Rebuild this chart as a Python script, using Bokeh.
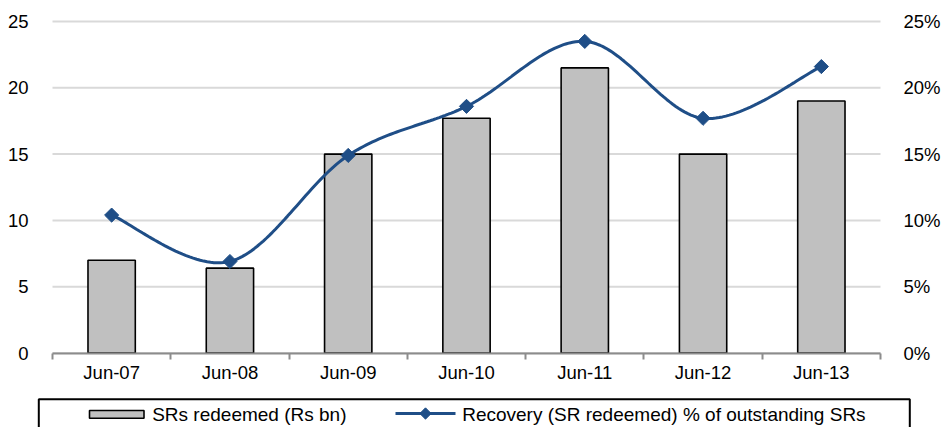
import numpy as np
from bokeh.plotting import figure
from bokeh.models import Range1d, LinearAxis, FixedTicker, NumeralTickFormatter
from bokeh.embed import file_html
from bokeh.resources import INLINE
from bokeh.core.properties import value

# ---- data ----
categories = ["Jun-07", "Jun-08", "Jun-09", "Jun-10", "Jun-11", "Jun-12", "Jun-13"]
srs_redeemed = [7.0, 6.4, 15.0, 17.7, 21.5, 15.0, 19.0]           # Rs bn
recovery_pct = [0.104, 0.069, 0.149, 0.186, 0.235, 0.177, 0.216]   # fraction
left_ticks = [0, 5, 10, 15, 20, 25]
right_ticks = [0.0, 0.05, 0.10, 0.15, 0.20, 0.25]
legend_labels = ["SRs redeemed (Rs bn)", "Recovery (SR redeemed) % of outstanding SRs"]

FONT = "Liberation Sans"
FS = "18.5px"
LEG_FS = "19px"
BAR_FILL = "#C0C0C0"
LINE_COL = "#1F4E87"
AXIS_COL = "#8C8C8C"
GRID_COL = "#D9D9D9"

# ---- layout (picture pixels) ----
W, H = 941, 427
CL, CT = 0, 0
CR, CB = CL + W, CT + H
PLOT_L, PLOT_R = 52, 880        # category area
Y0_PX, Y25_PX = 352.5, 21.0     # pixel rows of value 0 and 25

n = len(categories)
xs = list(range(n))
cw = (PLOT_R - PLOT_L) / n
ppu = (Y0_PX - Y25_PX) / 25.0
x_start = -0.5 - (PLOT_L - CL) / cw
x_end = n - 0.5 + (CR - PLOT_R) / cw
y_start = -(CB - Y0_PX) / ppu
y_end = 25 + (Y25_PX - CT) / ppu


def smooth(xv, yv, m=40):
    """Excel-style smoothed line (Catmull-Rom Bezier) through the data points."""
    pts = list(zip(xv, yv))
    ox, oy = [], []
    for i in range(len(pts) - 1):
        p0 = pts[i - 1] if i > 0 else pts[i]
        p1 = pts[i]
        p2 = pts[i + 1]
        p3 = pts[i + 2] if i + 2 < len(pts) else pts[i + 1]
        c1 = (p1[0] + (p2[0] - p0[0]) / 6.0, p1[1] + (p2[1] - p0[1]) / 6.0)
        c2 = (p2[0] - (p3[0] - p1[0]) / 6.0, p2[1] - (p3[1] - p1[1]) / 6.0)
        t = np.linspace(0, 1, m)
        if i > 0:
            t = t[1:]
        a = (1 - t) ** 3
        b = 3 * (1 - t) ** 2 * t
        c = 3 * (1 - t) * t ** 2
        d = t ** 3
        ox.extend(a * p1[0] + b * c1[0] + c * c2[0] + d * p2[0])
        oy.extend(a * p1[1] + b * c1[1] + c * c2[1] + d * p2[1])
    return ox, oy


p = figure(width=W, height=H, output_backend="svg", toolbar_location=None,
           x_range=Range1d(x_start, x_end), y_range=Range1d(y_start, y_end),
           min_border=0, min_border_left=0, min_border_right=0,
           min_border_top=0, min_border_bottom=0)
p.extra_y_ranges = {"pct": Range1d(y_start / 100.0, y_end / 100.0),
                    "ly": Range1d(CB, CT)}
p.extra_x_ranges = {"lx": Range1d(CL, CR)}
p.outline_line_color = None
p.xgrid.visible = False
p.ygrid.visible = False

# horizontal gridlines over the category area
p.segment(x0=[-0.5] * len(left_ticks), x1=[n - 0.5] * len(left_ticks),
          y0=left_ticks, y1=left_ticks, line_color=GRID_COL, line_width=2)

p.vbar(x=xs, top=srs_redeemed, width=0.4, fill_color=BAR_FILL,
       line_color="black", line_width=1.6)

sx, sy = smooth(xs, recovery_pct)
p.line(sx, sy, y_range_name="pct", line_color=LINE_COL, line_width=3)
p.scatter(xs, recovery_pct, y_range_name="pct", marker="square", angle=np.pi / 4,
          size=10, fill_color=LINE_COL, line_color=LINE_COL)

# x axis at y = 0
xa = p.xaxis[0]
xa.fixed_location = 0
xa.bounds = (-0.5, n - 0.5)
xa.ticker = FixedTicker(ticks=xs, minor_ticks=[i - 0.5 for i in range(n + 1)])
xa.major_label_overrides = {i: c for i, c in enumerate(categories)}
xa.major_tick_in = 0
xa.major_tick_out = 0
xa.minor_tick_in = 0
xa.minor_tick_out = 6
xa.minor_tick_line_color = AXIS_COL
xa.minor_tick_line_width = 2
xa.axis_line_color = AXIS_COL
xa.axis_line_width = 2
xa.major_label_standoff = 3
xa.major_label_text_font = FONT
xa.major_label_text_font_size = FS
xa.major_label_text_color = "black"

# left axis at the category area's left edge
ya = p.yaxis[0]
ya.fixed_location = -0.5
ya.ticker = FixedTicker(ticks=left_ticks)
ya.axis_line_color = None
ya.major_tick_line_color = None
ya.minor_tick_line_color = None
ya.major_label_standoff = 18
ya.major_label_text_font = FONT
ya.major_label_text_font_size = FS
ya.major_label_text_color = "black"

# right (percent) axis
ra = LinearAxis(y_range_name="pct", ticker=FixedTicker(ticks=right_ticks),
                formatter=NumeralTickFormatter(format="0%"), fixed_location=n - 0.5)
ra.axis_line_color = None
ra.major_tick_line_color = None
ra.minor_tick_line_color = None
ra.major_label_standoff = 17
ra.major_label_text_font = FONT
ra.major_label_text_font_size = FS
ra.major_label_text_color = "black"
p.add_layout(ra, "right")

# ---- legend (picture pixel coordinates) ----
lkw = dict(x_range_name="lx", y_range_name="ly")
p.quad(left=[38.3], right=[909.3], top=[398.7], bottom=[440],
       fill_color=None, line_color="black", line_width=2, **lkw)
p.quad(left=[89], right=[143.5], top=[410], bottom=[417.8],
       fill_color=BAR_FILL, line_color="black", line_width=1.6, **lkw)
p.line([395, 455], [413, 413], line_color=LINE_COL, line_width=3, **lkw)
p.scatter([425], [413], marker="square", angle=np.pi / 4, size=8,
          fill_color=LINE_COL, line_color=LINE_COL, **lkw)
p.text(x=[151.7, 461.7], y=[413.5, 413.5], text=legend_labels,
       text_font=value(FONT), text_font_size=LEG_FS, text_baseline="middle",
       text_align="left", text_color="black", **lkw)

open("out.html", "w").write(file_html(p, INLINE))
